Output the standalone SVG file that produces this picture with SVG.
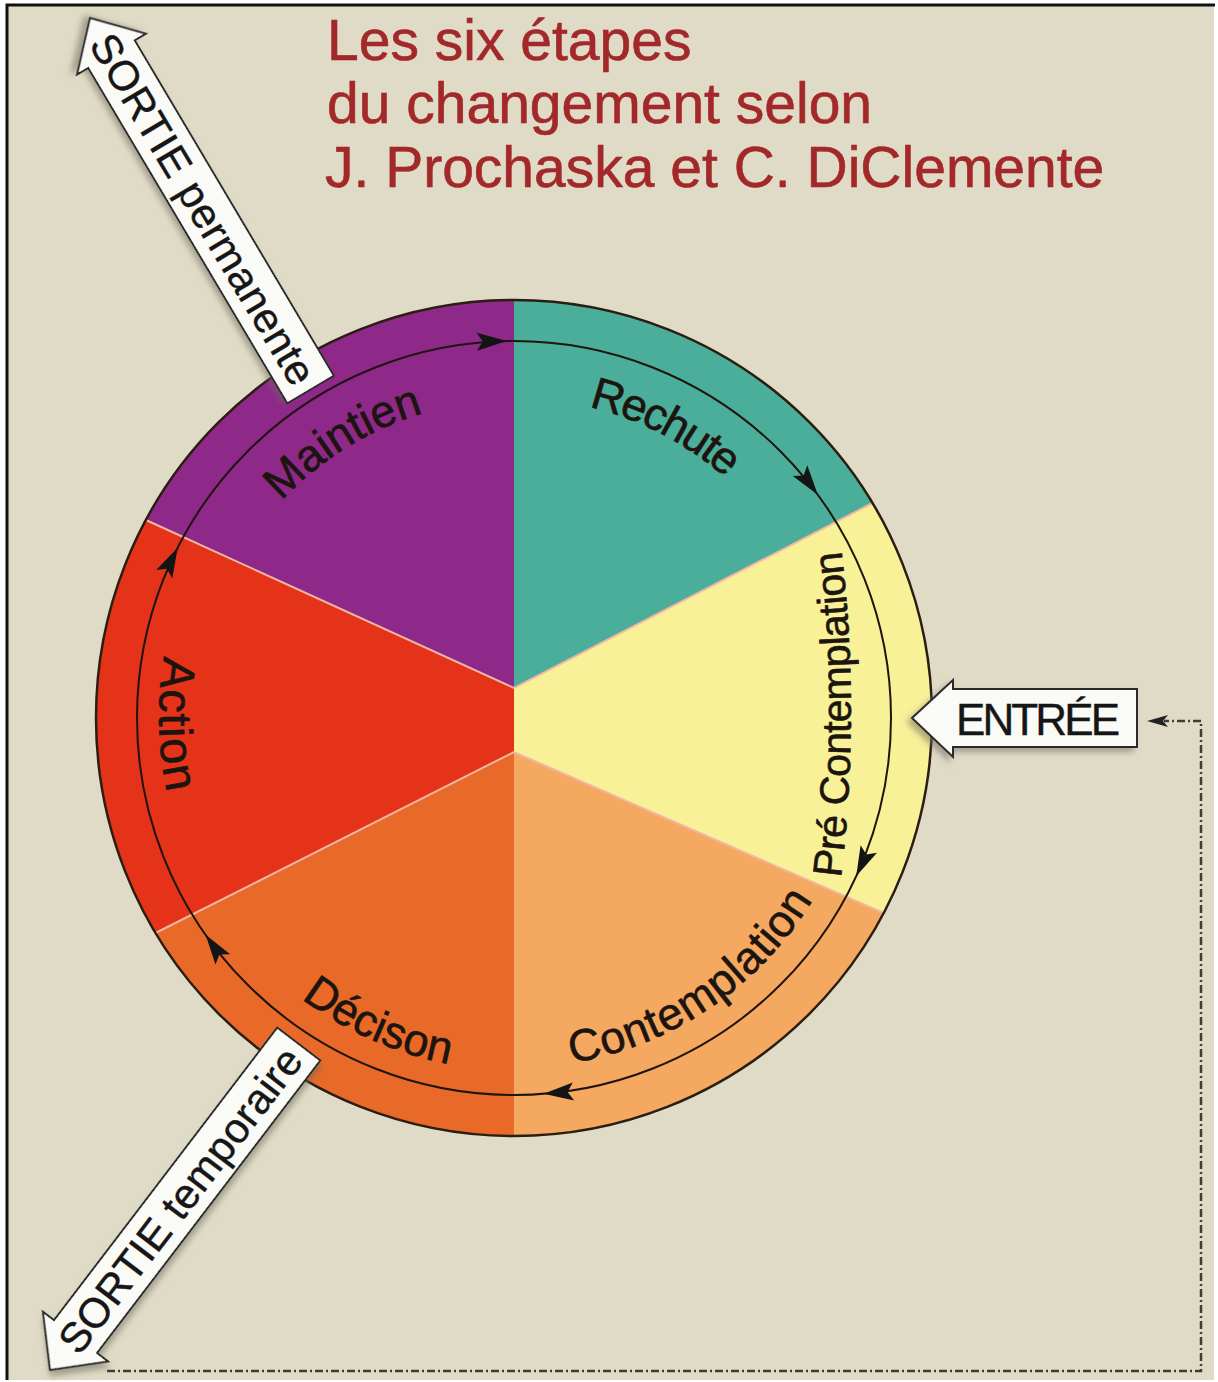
<svg xmlns="http://www.w3.org/2000/svg" width="1218" height="1382" viewBox="0 0 1218 1382">
<style>
.title{font-family:"Liberation Sans",Arial,Helvetica,sans-serif;font-size:57px;fill:#a3282a;stroke:#a3282a;stroke-width:0.6;}
.lbl{font-family:"Liberation Sans",Arial,Helvetica,sans-serif;font-size:45px;fill:#1c140e;stroke:#1c140e;stroke-width:0.6;}
.box{fill:#fafaf7;stroke:#2a2a2a;stroke-width:2;}
.boxtxt{font-family:"Liberation Sans",Arial,Helvetica,sans-serif;font-size:42px;fill:#161616;stroke:#161616;stroke-width:0.4;}
.seam{stroke:#f2b6a4;stroke-width:2;fill:none;}
.ahead{fill:#141414;}
</style>
<defs>
<filter id="sh" x="-20%" y="-20%" width="140%" height="140%">
<feDropShadow dx="-4" dy="4" stdDeviation="3" flood-color="#6e6a5c" flood-opacity="0.55"/>
</filter>
<polygon id="ah" points="0,0 -30,-9 -24,0 -30,9"/>
<path id="pMaintien" d="M281.4,501.1 A318,318 0 0 1 423.7,413.1"/>
<path id="pRechute" d="M588.7,406.8 A320,320 0 0 1 726.0,478.3"/>
<path id="pPre" d="M841,878 A1400,1400 0 0 0 841,546"/>
<path id="pContemp" d="M571.8,1063.2 A350,350 0 0 0 814.0,898.3"/>
<path id="pDecison" d="M301.2,998.4 A352,352 0 0 0 449.9,1064.1"/>
<path id="pAction" d="M164.4,656.4 A355,355 0 0 0 167.4,794.8"/>
</defs>

<rect x="0" y="0" width="1218" height="1382" fill="#ffffff"/>
<rect x="7" y="5" width="1207" height="1375" fill="#e0dbc6"/>
<path d="M7,1380 V5 H1215" fill="none" stroke="#111" stroke-width="3"/>

<g id="title">
<text class="title" x="327" y="60">Les six étapes</text>
<text class="title" x="327" y="123">du changement selon</text>
<text class="title" x="325" y="187">J. Prochaska et C. DiClemente</text>
</g>

<g id="wheel">
<g id="maintien">
<path d="M514,688 L145.9,520 A418,418 0 0 1 514,300 Z" fill="#8e2889"/>
<text class="lbl"><textPath href="#pMaintien" textLength="169" lengthAdjust="spacing">Maintien</textPath></text>
</g>
<g id="rechute">
<path d="M514,688 L514,300 A418,418 0 0 1 872.5,503 Z" fill="#4aae9a"/>
<text class="lbl"><textPath href="#pRechute" textLength="156" lengthAdjust="spacing">Rechute</textPath></text>
</g>
<g id="precontemplation">
<path d="M514,688 L872.5,503 A418,418 0 0 1 883.7,913 L514,752 Z" fill="#f9f198"/>
<text class="lbl" style="font-size:41px"><textPath href="#pPre" textLength="328" lengthAdjust="spacing">Pré Contemplation</textPath></text>
</g>
<g id="contemplation">
<path d="M514,752 L883.7,913 A418,418 0 0 1 514,1136 Z" fill="#f5a860"/>
<text class="lbl"><textPath href="#pContemp" textLength="300" lengthAdjust="spacing">Contemplation</textPath></text>
</g>
<g id="decison">
<path d="M514,752 L514,1136 A418,418 0 0 1 155.5,933 Z" fill="#e96a28"/>
<text class="lbl"><textPath href="#pDecison" textLength="163" lengthAdjust="spacing">Décison</textPath></text>
</g>
<g id="action">
<path d="M514,752 L155.5,933 A418,418 0 0 1 145.9,520 L514,688 Z" fill="#e5331a"/>
<text class="lbl" style="font-size:47px"><textPath href="#pAction" textLength="137" lengthAdjust="spacing">Action</textPath></text>
</g>
<path class="seam" d="M145.9,520 L514,688 L872.5,503 M155.5,933 L514,752 L883.7,913"/>
<circle cx="514" cy="718" r="418" fill="none" stroke="#2b1d12" stroke-width="2.5"/>
</g>

<g id="connectors">
<circle cx="514" cy="718" r="377" fill="none" stroke="#1e150e" stroke-width="2"/>
<use href="#ah" class="ahead" transform="translate(506.8,341.1) rotate(-1.1)"/>
<use href="#ah" class="ahead" transform="translate(817.8,494.8) rotate(53.7)"/>
<use href="#ah" class="ahead" transform="translate(856.2,876.2) rotate(114.8)"/>
<use href="#ah" class="ahead" transform="translate(543.6,1093.8) rotate(175.5)"/>
<use href="#ah" class="ahead" transform="translate(205.6,934.8) rotate(234.9)"/>
<use href="#ah" class="ahead" transform="translate(177.8,547.4) rotate(296.9)"/>
<path d="M107,1371 H1201 V721 H1164" fill="none" stroke="#3e3c34" stroke-width="2.5" stroke-dasharray="8 3 2 3"/>
<polygon points="1147,721 1168,715 1163,721 1168,727" fill="#222"/>
</g>

<g id="sortie-permanente" transform="translate(90,18) rotate(59.3)">
<polygon class="box" filter="url(#sh)" points="0,0 42,-40 42,-27 432,-27 432,27 42,27 42,40"/>
<text class="boxtxt" x="22" y="15" textLength="400" lengthAdjust="spacing">SORTIE permanente</text>
</g>

<g id="sortie-temporaire" transform="translate(50,1370) rotate(-52.65)">
<polygon class="box" filter="url(#sh)" points="0,0 42,-41 42,-27 410,-27 410,27 42,27 42,41"/>
<text class="boxtxt" x="28" y="15" textLength="372" lengthAdjust="spacing">SORTIE temporaire</text>
</g>

<g id="entree">
<polygon class="box" filter="url(#sh)" points="912,718 953,680 953,689 1137,689 1137,747 953,747 953,757"/>
<text class="boxtxt" x="956" y="735" style="font-size:44px" textLength="164" lengthAdjust="spacing">ENTRÉE</text>
</g>
</svg>
